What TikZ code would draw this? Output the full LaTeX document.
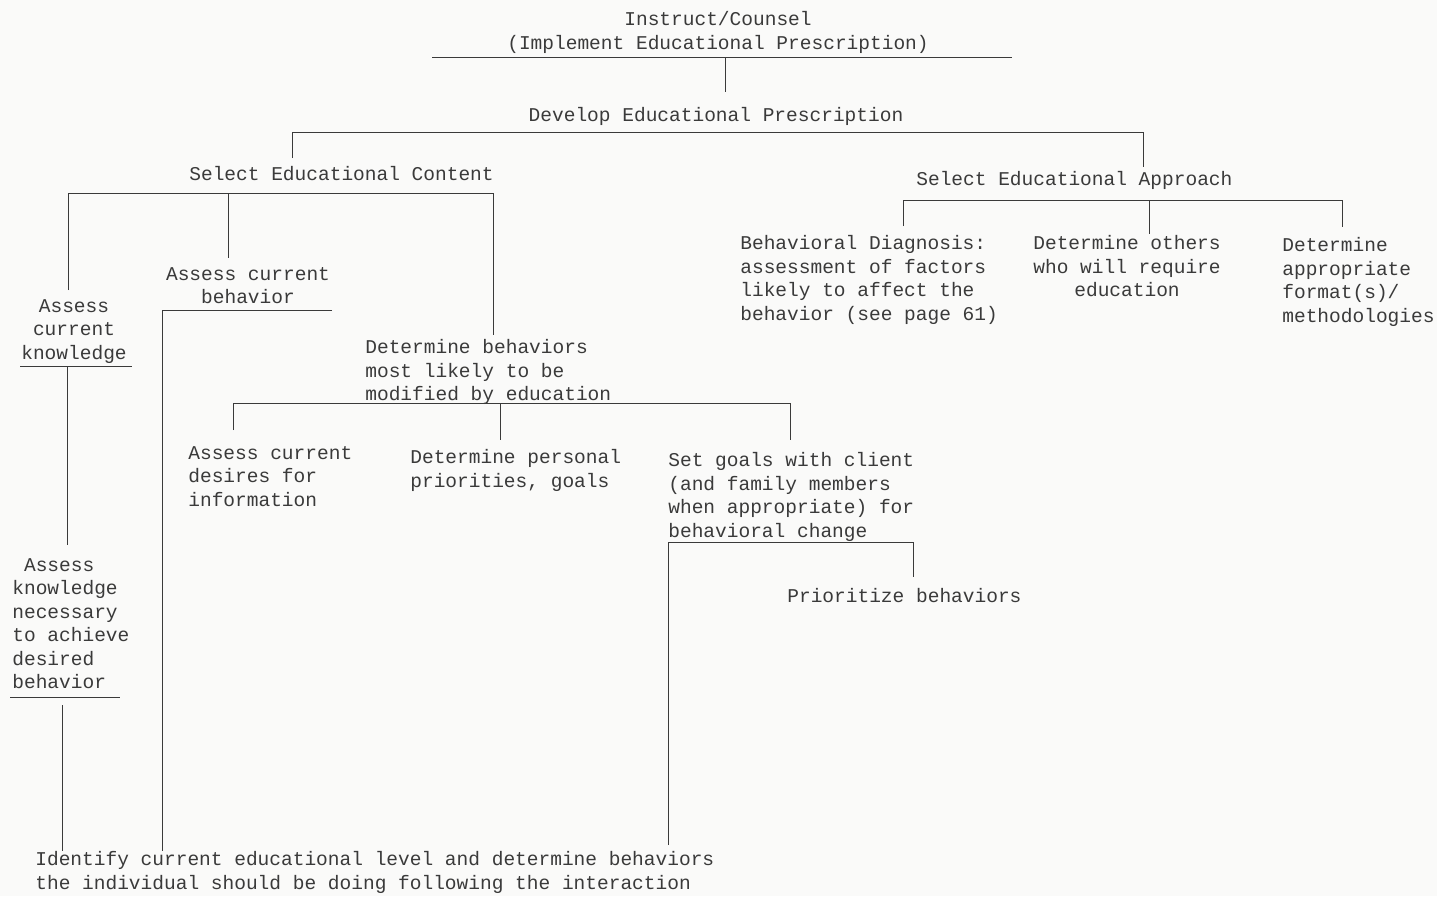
\documentclass[tikz,border=0pt]{standalone}
\usepackage{fontspec}
\usepackage{tikz}
\usetikzlibrary{positioning,calc}
\newfontfamily\typefont{Liberation Mono}
\definecolor{inkgray}{RGB}{58,58,58}
\definecolor{paper}{RGB}{250,250,249}
\tikzset{
  typ/.style={font=\typefont\fontsize{11.1}{13.4}\selectfont, text=inkgray,
              inner sep=0pt, align=left, anchor=north west},
  typc/.style={typ, align=center, anchor=north},
  rule/.style={inkgray, line width=0.55pt},
}

\begin{document}
\begin{tikzpicture}[x=0.2mm, y=-0.2mm]
        \fill[paper] (0,0) rectangle (1437,896);
        \useasboundingbox (0,0) rectangle (1437,896);
        % top of the tree
        \node[typc] (instr) at (718,11) {Instruct/Counsel\\(Implement Educational Prescription)};
        \node[typc] (dev) at (716,107) {Develop Educational Prescription};
        \node[typ] (content) at (189,166) {Select Educational Content};
        \node[typ] (approach) at (916,171) {Select Educational Approach};
        % content branch
        \node[typc] (knowcur) at (74,299) {Assess\\current\\knowledge};
        \node[typc] (behcur) at (248,267) {Assess current\\behavior};
        \node[typ] (detbeh) at (365,339) {Determine behaviors\\most likely to be\\modified by education};
        \node[typ] (desires) at (188,446) {Assess current\\desires for\\information};
        \node[typ] (personal) at (410,449) {Determine personal\\priorities, goals};
        \node[typ] (goals) at (668,452) {Set goals with client\\(and family members\\when appropriate) for\\behavioral change};
        \node[typ] (prior) at (787,588) {Prioritize behaviors};
        \node[typ] (knownec) at (12,558) {\hphantom{x}Assess\\knowledge\\necessary\\to achieve\\desired\\behavior};
        \node[typ] (ident) at (35,851) {Identify current educational level and determine behaviors\\the individual should be doing following the interaction};
        % approach branch
        \node[typ] (diag) at (740,235) {Behavioral Diagnosis:\\assessment of factors\\likely to affect the\\behavior (see page 61)};
        \node[typc] (others) at (1127,235) {Determine others\\who will require\\education};
        \node[typ] (format) at (1282,237) {Determine\\appropriate\\format(s)/\\methodologies};

        % rules and corners
        \coordinate (instrL) at (432,57);
        \coordinate (instrR) at (1012,57);
        \coordinate (instrD) at (725,57);
        \coordinate (devU) at (725,92);
        \coordinate (devL) at (292,132);
        \coordinate (devR) at (1143,132);
        \coordinate (contU) at (292,158);
        \coordinate (apprU) at (1143,167);
        \coordinate (cbL) at (68,193);
        \coordinate (cbM) at (228,193);
        \coordinate (cbR) at (493,193);
        \coordinate (kcU) at (68,290);
        \coordinate (bcU) at (228,258);
        \coordinate (dbU) at (493,335);
        \coordinate (kcL) at (20,366);
        \coordinate (kcR) at (132,366);
        \coordinate (kcD) at (67,366);
        \coordinate (knU) at (67,545);
        \coordinate (knL) at (10,697);
        \coordinate (knR) at (120,697);
        \coordinate (knD) at (62,705);
        \coordinate (bcL) at (162,310);
        \coordinate (bcR) at (332,310);
        \coordinate (dbL) at (233,403);
        \coordinate (dbM) at (500,403);
        \coordinate (dbR) at (790,403);
        \coordinate (glL) at (668,542);
        \coordinate (glR) at (913,542);
        \coordinate (abL) at (903,200);
        \coordinate (abM) at (1149,200);
        \coordinate (abR) at (1342,200);

        \draw[rule] (instrL) -- (instrR);
        \draw[rule] (instrD) -- (devU);
        \draw[rule] (contU) -- (devL) -- (devR) -- (apprU);
        \draw[rule] (kcU) -- (cbL) -- (cbR) -- (dbU);
        \draw[rule] (cbM) -- (bcU);
        \draw[rule] (kcL) -- (kcR);
        \draw[rule] (kcD) -- (knU);
        \draw[rule] (knL) -- (knR);
        \draw[rule] (knD) -- (ident.north -| knD);
        \draw[rule] (bcR) -- (bcL) -- (ident.north -| bcL);
        \draw[rule] (desires.north -| dbL) ++(0,-16) -- (dbL) -- (dbR) -- ($(goals.north -| dbR)+(0,-12)$);
        \draw[rule] (dbM) -- ($(personal.north -| dbM)+(0,-9)$);
        \draw[rule] (ident.north -| glL) ++(0,-6) -- (glL) -- (glR) -- ($(prior.north -| glR)+(0,-11)$);
        \draw[rule] ($(diag.north -| abL)+(0,-9)$) -- (abL) -- (abR) -- ($(format.north -| abR)+(0,-10)$);
        \draw[rule] (abM) -- ($(others.north -| abM)+(0,-1)$);
\end{tikzpicture}
\end{document}
